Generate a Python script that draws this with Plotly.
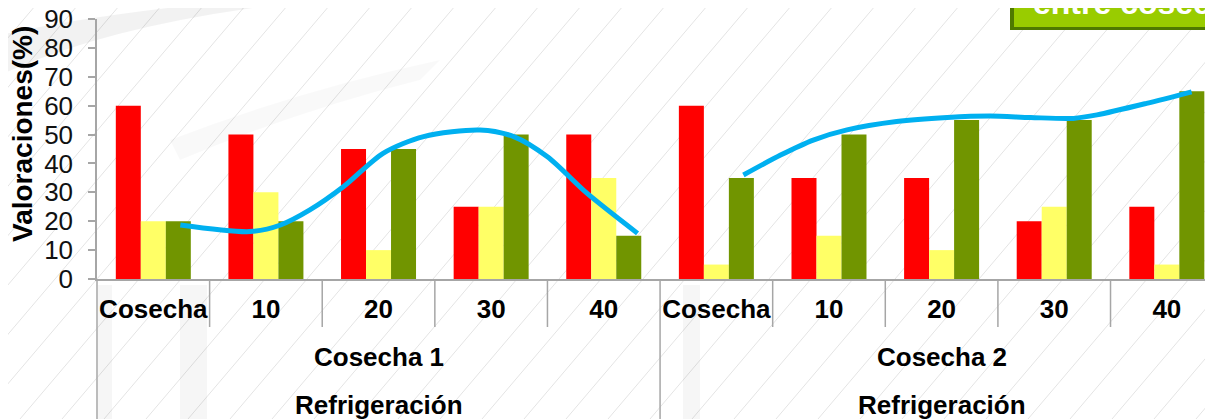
import plotly.graph_objects as go

# data
cosechas = ["Cosecha 1"] * 5 + ["Cosecha 2"] * 5
dias = ["Cosecha", "10", "20", "30", "40"] * 2
tratamiento = "Refrigeración"
rojo = [60, 50, 45, 25, 50, 60, 35, 35, 20, 25]
amarillo = [20, 30, 10, 25, 35, 5, 15, 10, 25, 5]
verde = [20, 20, 45, 50, 15, 35, 50, 55, 55, 65]

# hand drawn trend curve (category position, value)
curva1_x = [0.24, 0.86, 1.13, 1.39, 1.69, 2.04, 2.40, 2.90, 3.20, 3.50, 3.85, 4.30]
curva1_y = [18.7, 16.4, 18.7, 23.9, 32.0, 43.5, 49.3, 51.6, 49.3, 42.3, 29.7, 15.8]
curva2_x = [5.24, 5.57, 5.86, 6.16, 6.60, 7.05, 7.43, 7.79, 8.17, 8.38, 8.82, 9.22]
curva2_y = [36.0, 42.9, 48.1, 51.6, 54.5, 55.9, 56.4, 55.9, 55.6, 56.8, 60.8, 64.8]

# the page body adds an 8px margin, so the figure is made that much smaller
OFF = 8
SW, SH = 1213, 419
W, H = SW - OFF, SH - OFF
ML, MT = 97 - OFF, 19 - OFF
PH = 260
MB = H - MT - PH
PW = W - ML
XR = [-0.5, 9.41]
FONT = "Arial, Liberation Sans, sans-serif"
GRIS = "#A6A6A6"


def px(sx):
    # screen pixel -> paper x
    return (sx - OFF - ML) / PW


def py(sy):
    # screen pixel -> paper y
    return 1 - (sy - OFF - MT) / PH


pos = list(range(len(dias)))

fig = go.Figure()

for vals, color in [(rojo, "#FF0000"), (amarillo, "#FFFF66"), (verde, "#719500")]:
    fig.add_trace(go.Bar(
        x=pos,
        y=vals,
        marker=dict(color=color, line=dict(width=0)),
        showlegend=False
    ))

for cx, cy in [(curva1_x, curva1_y), (curva2_x, curva2_y)]:
    fig.add_trace(go.Scatter(
        x=cx, y=cy,
        mode="lines",
        line=dict(color="#00B0F0", width=5, shape="spline", smoothing=0.8),
        showlegend=False
    ))

shapes = []

# diagonal hatching of the background
k = 0.85
for x0 in range(-400, SW + 40, 42):
    shapes.append(dict(
        type="line", xref="paper", yref="paper", layer="below",
        x0=px(x0), y0=py(SH), x1=px(x0 + k * SH), y1=py(0),
        line=dict(color="#E4E4E4", width=1)
    ))

# soft grey swooshes
shapes.append(dict(
    type="path", xref="paper", yref="paper", layer="below",
    path=f"M {px(0)},{py(75)} Q {px(120)},{py(20)} {px(320)},{py(0)} "
         f"L {px(240)},{py(0)} Q {px(90)},{py(15)} {px(0)},{py(35)} Z",
    fillcolor="rgba(0,0,0,0.05)", line=dict(width=0)
))
shapes.append(dict(
    type="path", xref="paper", yref="paper", layer="below",
    path=f"M {px(170)},{py(140)} Q {px(300)},{py(90)} {px(440)},{py(60)} "
         f"L {px(420)},{py(80)} Q {px(300)},{py(110)} {px(180)},{py(160)} Z",
    fillcolor="rgba(0,0,0,0.022)", line=dict(width=0)
))
for x0, x1 in [(98, 112), (180, 207), (683, 700)]:
    shapes.append(dict(
        type="rect", xref="paper", yref="paper", layer="below",
        x0=px(x0), x1=px(x1), y0=py(SH), y1=py(285),
        fillcolor="rgba(0,0,0,0.035)", line=dict(width=0)
    ))

# category boundaries below the axis
for i in range(len(dias) - 1):
    largo = cosechas[i] != cosechas[i + 1]
    shapes.append(dict(
        type="line", xref="x", yref="paper",
        x0=i + 0.5, x1=i + 0.5, y0=0, y1=py(SH + 5) if largo else py(327),
        line=dict(color=GRIS, width=1.5)
    ))
shapes.append(dict(
    type="line", xref="paper", yref="paper",
    x0=0, x1=0, y0=0, y1=py(SH + 5),
    line=dict(color=GRIS, width=1.5)
))

# green title box (cut off at the top right)
shapes.append(dict(
    type="rect", xref="paper", yref="paper",
    x0=px(1010), x1=px(SW + 20), y0=py(30), y1=py(-20),
    fillcolor="#4F7A00", line=dict(width=0)
))
shapes.append(dict(
    type="rect", xref="paper", yref="paper",
    x0=px(1014), x1=px(SW + 20), y0=py(27), y1=py(-20),
    fillcolor="#99CC00", line=dict(width=0)
))

annotations = [
    dict(
        text="entre cosechas", xref="paper", yref="paper",
        x=px(1031), y=py(3), xanchor="left", yanchor="middle",
        showarrow=False,
        font=dict(family=FONT, size=32, color="white", weight="bold")
    ),
    dict(
        text="Valoraciones(%)", xref="paper", yref="paper",
        x=px(22), y=py(134), xanchor="center", yanchor="middle",
        textangle=-90, showarrow=False,
        font=dict(family=FONT, size=28, color="black", weight="bold")
    ),
]

grupos = list(dict.fromkeys(cosechas))
for g in grupos:
    idx = [i for i, c in enumerate(cosechas) if c == g]
    centro = sum(idx) / len(idx)
    annotations.append(dict(
        text=g, xref="x", yref="paper",
        x=centro, y=py(357), yanchor="middle",
        showarrow=False,
        font=dict(family=FONT, size=26, color="black", weight="bold")
    ))
    annotations.append(dict(
        text=tratamiento, xref="x", yref="paper",
        x=centro, y=py(405), yanchor="middle",
        showarrow=False,
        font=dict(family=FONT, size=26, color="black", weight="bold")
    ))

fig.update_layout(
    width=W, height=H,
    margin=dict(l=ML, r=0, t=MT, b=MB),
    paper_bgcolor="white",
    plot_bgcolor="white",
    barmode="group",
    bargap=0.334,
    bargroupgap=0,
    font=dict(family=FONT, color="black"),
    xaxis=dict(
        range=XR, automargin=False,
        tickmode="array", tickvals=pos, ticktext=dias,
        showline=True, linecolor=GRIS, linewidth=1.5,
        ticks="", showgrid=False, zeroline=False,
        ticklabelstandoff=6,
        tickfont=dict(family=FONT, size=26, color="black", weight="bold")
    ),
    yaxis=dict(
        range=[0, 90], dtick=10, automargin=False,
        showline=True, linecolor=GRIS, linewidth=1.5,
        ticks="outside", ticklen=7, tickcolor=GRIS, tickwidth=1.5,
        ticklabelstandoff=10, ticklabeloverflow="allow",
        showgrid=False, zeroline=False,
        tickfont=dict(family=FONT, size=26, color="#111111")
    ),
    shapes=shapes,
    annotations=annotations
)

fig.write_html("out.html")
